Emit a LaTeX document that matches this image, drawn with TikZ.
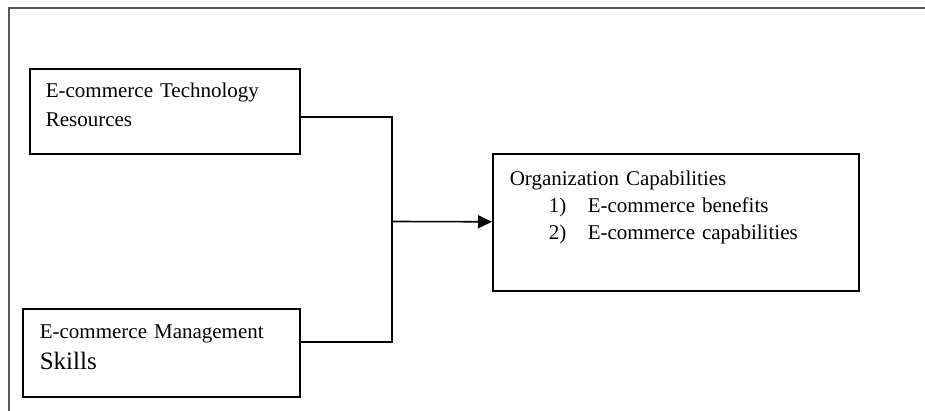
\documentclass[tikz,border=0pt]{standalone}
\usepackage{fontspec}
\setmainfont{Liberation Serif}
\usetikzlibrary{arrows.meta}

\begin{document}
\begin{tikzpicture}[x=1pt,y=1pt,>={Triangle[length=14pt,width=13pt]},
                    line width=1.6pt,
                    box/.style={draw,rectangle,anchor=north west,align=left,
                                inner ysep=0pt,inner xsep=17pt,
                                font=\fontsize{21}{29}\selectfont}]

  \useasboundingbox (0,0) rectangle (925,-411);
  \draw[black!65] (9,-411) -- (9,-8) -- (925,-8);

  \node[box,inner xsep=16pt,text width=238pt,text height=29pt,text depth=56pt]
        (tech) at (29,-68) {E-commerce Technology\\Resources};
  \node[box,text width=243pt,text height=30pt,text depth=58pt]
        (mgmt) at (22,-308) {E-commerce Management\\[2pt]{\fontsize{25}{29}\selectfont Skills}};
  \node[box,text width=332pt,text height=32pt,text depth=105pt,
        font=\fontsize{21}{27}\selectfont]
        (org) at (492,-153) {Organization Capabilities\\
          \hspace*{39pt}\makebox[39pt][l]{1)}E-commerce benefits\\
          \hspace*{39pt}\makebox[39pt][l]{2)}E-commerce capabilities};

  \coordinate (join) at (392,-221.5);

  \draw ([yshift=-6pt]tech.east) -| (join);
  \draw ([yshift=11pt]mgmt.east) -| (join);
  \draw[->] (join) -- (org);
\end{tikzpicture}
\end{document}
